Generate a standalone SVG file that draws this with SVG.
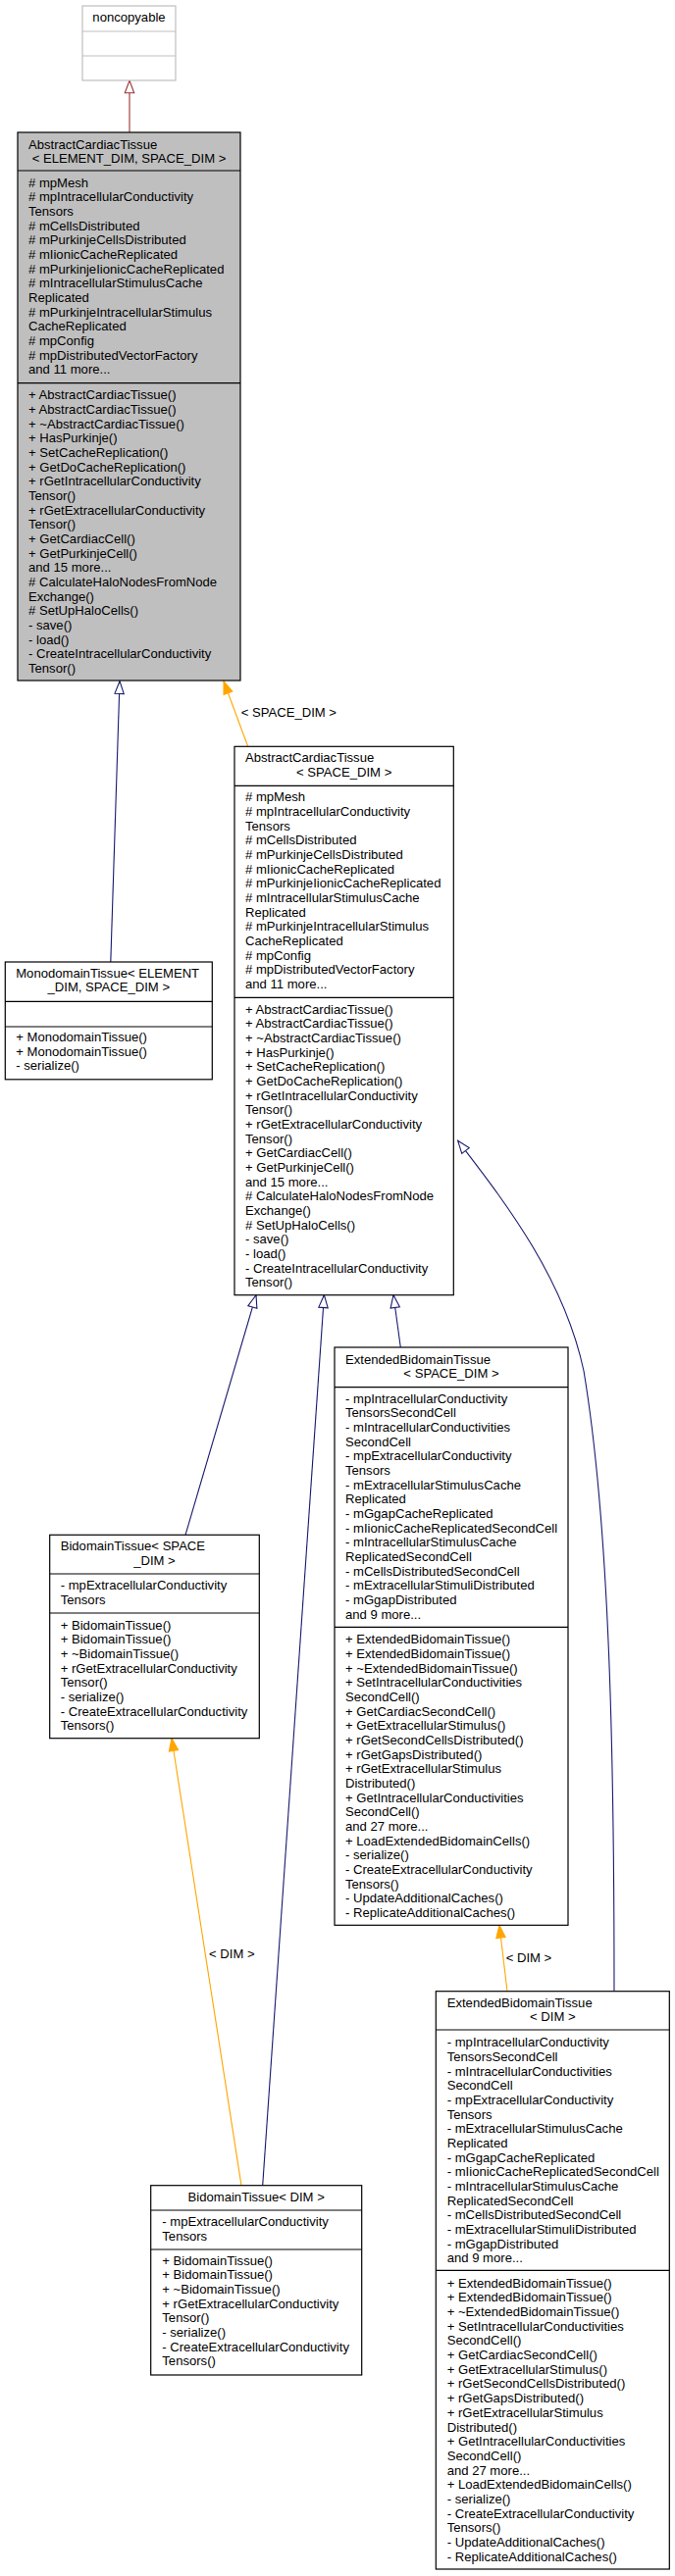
<svg xmlns="http://www.w3.org/2000/svg" width="688" height="2627" viewBox="0 0 688 2627">
<style>
.bx{fill:#fff;stroke:#000;stroke-width:1.2}
.bg{fill:#bfbfbf;stroke:#000;stroke-width:1.2}
.bn{fill:#fff;stroke:#bfbfbf;stroke-width:1.2}
.dv{stroke:#000;stroke-width:1.2}
.dn{stroke:#bfbfbf;stroke-width:1.2}
.t{font-family:"Liberation Sans",Arial,Helvetica,sans-serif;font-size:13.1px;fill:#000}
.m{text-anchor:middle}
.en{fill:none;stroke:#191970;stroke-width:1.1}
.eo{fill:none;stroke:#ffa500;stroke-width:1.1}
.er{fill:none;stroke:#9a3232;stroke-width:1.1}
</style>
<defs>
<marker id="hn" markerUnits="userSpaceOnUse" viewBox="0 0 14 10" markerWidth="14" markerHeight="10" refX="13.3" refY="5" orient="auto" overflow="visible"><path d="M0.5,0.3 L13.3,5 L0.5,9.7 Z" fill="#fff" stroke="#191970" stroke-width="1.1"/></marker>
<marker id="hr" markerUnits="userSpaceOnUse" viewBox="0 0 14 10" markerWidth="14" markerHeight="10" refX="13.3" refY="5" orient="auto" overflow="visible"><path d="M0.5,0.3 L13.3,5 L0.5,9.7 Z" fill="#fff" stroke="#9a3232" stroke-width="1.1"/></marker>
<marker id="fo" markerUnits="userSpaceOnUse" viewBox="0 0 14 10" markerWidth="14" markerHeight="10" refX="13.3" refY="5" orient="auto" overflow="visible"><path d="M0.5,0.3 L13.3,5 L0.5,9.7 Z" fill="#ffa500" stroke="#ffa500" stroke-width="1.1"/></marker>
</defs>

<g id="edges">
<path class="er" d="M132,135 L132,82" marker-end="url(#hr)"/>
<path class="en" d="M112.8,981 L122,694.7" marker-end="url(#hn)"/>
<path class="eo" d="M252.7,761.3 L228,694.7" marker-end="url(#fo)"/>
<text class="t" x="245.7" y="730.5">&lt; SPACE_DIM &gt;</text>
<path class="en" d="M189,1565.3 L261,1320.7" marker-end="url(#hn)"/>
<path class="en" d="M267.7,2228.7 L330.4,1320.7" marker-end="url(#hn)"/>
<path class="en" d="M408.3,1374 L401,1320.7" marker-end="url(#hn)"/>
<path class="en" d="M626,2030.7 C626,1800 622,1560 595,1398 C574,1300 510,1220 466.7,1163.3" marker-end="url(#hn)"/>
<path class="eo" d="M517,2030.7 L509,1963.3" marker-end="url(#fo)"/>
<text class="t" x="515.7" y="2001.2">&lt; DIM &gt;</text>
<path class="eo" d="M246,2228.7 L175,1772.7" marker-end="url(#fo)"/>
<text class="t" x="213" y="1997">&lt; DIM &gt;</text>
</g>

<g id="noncopyable">
<rect class="bn" x="84" y="6" width="95" height="76"/>
<line class="dn" x1="84" y1="32" x2="179" y2="32"/>
<line class="dn" x1="84" y1="57" x2="179" y2="57"/>
<text class="t m" x="131.5" y="21.8">noncopyable</text>
</g>

<g id="AbstractCardiacTissue_ED_SD">
<rect class="bg" x="18" y="135" width="227" height="559"/>
<line class="dv" x1="18" y1="174" x2="245" y2="174"/>
<line class="dv" x1="18" y1="390.7" x2="245" y2="390.7"/>
<text class="t" x="29" y="151.5">AbstractCardiacTissue</text>
<text class="t m" x="131.5" y="165.5">&lt; ELEMENT_DIM, SPACE_DIM &gt;</text>
<text class="t" x="29" y="190.5"><tspan x="29">#  mpMesh</tspan><tspan x="29" dy="14.67"># mpIntracellularConductivity</tspan><tspan x="29" dy="14.67">Tensors</tspan><tspan x="29" dy="14.67"># mCellsDistributed</tspan><tspan x="29" dy="14.67"># mPurkinjeCellsDistributed</tspan><tspan x="29" dy="14.67"># mIionicCacheReplicated</tspan><tspan x="29" dy="14.67"># mPurkinjeIionicCacheReplicated</tspan><tspan x="29" dy="14.67"># mIntracellularStimulusCache</tspan><tspan x="29" dy="14.67">Replicated</tspan><tspan x="29" dy="14.67"># mPurkinjeIntracellularStimulus</tspan><tspan x="29" dy="14.67">CacheReplicated</tspan><tspan x="29" dy="14.67"># mpConfig</tspan><tspan x="29" dy="14.67"># mpDistributedVectorFactory</tspan><tspan x="29" dy="14.67">and 11 more...</tspan></text>
<text class="t" x="29" y="407.2"><tspan x="29">+ AbstractCardiacTissue()</tspan><tspan x="29" dy="14.67">+ AbstractCardiacTissue()</tspan><tspan x="29" dy="14.67">+ ~AbstractCardiacTissue()</tspan><tspan x="29" dy="14.67">+ HasPurkinje()</tspan><tspan x="29" dy="14.67">+ SetCacheReplication()</tspan><tspan x="29" dy="14.67">+ GetDoCacheReplication()</tspan><tspan x="29" dy="14.67">+ rGetIntracellularConductivity</tspan><tspan x="29" dy="14.67">Tensor()</tspan><tspan x="29" dy="14.67">+ rGetExtracellularConductivity</tspan><tspan x="29" dy="14.67">Tensor()</tspan><tspan x="29" dy="14.67">+ GetCardiacCell()</tspan><tspan x="29" dy="14.67">+ GetPurkinjeCell()</tspan><tspan x="29" dy="14.67">and 15 more...</tspan><tspan x="29" dy="14.67"># CalculateHaloNodesFromNode</tspan><tspan x="29" dy="14.67">Exchange()</tspan><tspan x="29" dy="14.67"># SetUpHaloCells()</tspan><tspan x="29" dy="14.67">- save()</tspan><tspan x="29" dy="14.67">- load()</tspan><tspan x="29" dy="14.67">- CreateIntracellularConductivity</tspan><tspan x="29" dy="14.67">Tensor()</tspan></text>
</g>

<g id="AbstractCardiacTissue_SD">
<rect class="bx" x="239" y="761.3" width="223.3" height="559.4"/>
<line class="dv" x1="239" y1="801.3" x2="462.3" y2="801.3"/>
<line class="dv" x1="239" y1="1017.3" x2="462.3" y2="1017.3"/>
<text class="t" x="250" y="777.2">AbstractCardiacTissue</text>
<text class="t m" x="350.7" y="792.2">&lt; SPACE_DIM &gt;</text>
<text class="t" x="250" y="817.2"><tspan x="250"># mpMesh</tspan><tspan x="250" dy="14.67"># mpIntracellularConductivity</tspan><tspan x="250" dy="14.67">Tensors</tspan><tspan x="250" dy="14.67"># mCellsDistributed</tspan><tspan x="250" dy="14.67"># mPurkinjeCellsDistributed</tspan><tspan x="250" dy="14.67"># mIionicCacheReplicated</tspan><tspan x="250" dy="14.67"># mPurkinjeIionicCacheReplicated</tspan><tspan x="250" dy="14.67"># mIntracellularStimulusCache</tspan><tspan x="250" dy="14.67">Replicated</tspan><tspan x="250" dy="14.67"># mPurkinjeIntracellularStimulus</tspan><tspan x="250" dy="14.67">CacheReplicated</tspan><tspan x="250" dy="14.67"># mpConfig</tspan><tspan x="250" dy="14.67"># mpDistributedVectorFactory</tspan><tspan x="250" dy="14.67">and 11 more...</tspan></text>
<text class="t" x="250" y="1033.5"><tspan x="250">+ AbstractCardiacTissue()</tspan><tspan x="250" dy="14.67">+ AbstractCardiacTissue()</tspan><tspan x="250" dy="14.67">+ ~AbstractCardiacTissue()</tspan><tspan x="250" dy="14.67">+ HasPurkinje()</tspan><tspan x="250" dy="14.67">+ SetCacheReplication()</tspan><tspan x="250" dy="14.67">+ GetDoCacheReplication()</tspan><tspan x="250" dy="14.67">+ rGetIntracellularConductivity</tspan><tspan x="250" dy="14.67">Tensor()</tspan><tspan x="250" dy="14.67">+ rGetExtracellularConductivity</tspan><tspan x="250" dy="14.67">Tensor()</tspan><tspan x="250" dy="14.67">+ GetCardiacCell()</tspan><tspan x="250" dy="14.67">+ GetPurkinjeCell()</tspan><tspan x="250" dy="14.67">and 15 more...</tspan><tspan x="250" dy="14.67"># CalculateHaloNodesFromNode</tspan><tspan x="250" dy="14.67">Exchange()</tspan><tspan x="250" dy="14.67"># SetUpHaloCells()</tspan><tspan x="250" dy="14.67">- save()</tspan><tspan x="250" dy="14.67">- load()</tspan><tspan x="250" dy="14.67">- CreateIntracellularConductivity</tspan><tspan x="250" dy="14.67">Tensor()</tspan></text>
</g>

<g id="MonodomainTissue">
<rect class="bx" x="5.3" y="981" width="211" height="119.8"/>
<line class="dv" x1="5.3" y1="1021.3" x2="216.3" y2="1021.3"/>
<line class="dv" x1="5.3" y1="1047" x2="216.3" y2="1047"/>
<text class="t" x="16.2" y="996.7">MonodomainTissue&lt; ELEMENT</text>
<text class="t m" x="110.8" y="1011.3">_DIM, SPACE_DIM &gt;</text>
<text class="t" x="16.2" y="1062.1"><tspan x="16.2">+ MonodomainTissue()</tspan><tspan x="16.2" dy="14.67">+ MonodomainTissue()</tspan><tspan x="16.2" dy="14.67">- serialize()</tspan></text>
</g>

<g id="ExtendedBidomainTissue_SD">
<rect class="bx" x="341" y="1374" width="238" height="589.3"/>
<line class="dv" x1="341" y1="1414.7" x2="579" y2="1414.7"/>
<line class="dv" x1="341" y1="1659.3" x2="579" y2="1659.3"/>
<text class="t" x="352" y="1390.5">ExtendedBidomainTissue</text>
<text class="t m" x="460" y="1404.5">&lt; SPACE_DIM &gt;</text>
<text class="t" x="352" y="1430.5"><tspan x="352">- mpIntracellularConductivity</tspan><tspan x="352" dy="14.67">TensorsSecondCell</tspan><tspan x="352" dy="14.67">- mIntracellularConductivities</tspan><tspan x="352" dy="14.67">SecondCell</tspan><tspan x="352" dy="14.67">- mpExtracellularConductivity</tspan><tspan x="352" dy="14.67">Tensors</tspan><tspan x="352" dy="14.67">- mExtracellularStimulusCache</tspan><tspan x="352" dy="14.67">Replicated</tspan><tspan x="352" dy="14.67">- mGgapCacheReplicated</tspan><tspan x="352" dy="14.67">- mIionicCacheReplicatedSecondCell</tspan><tspan x="352" dy="14.67">- mIntracellularStimulusCache</tspan><tspan x="352" dy="14.67">ReplicatedSecondCell</tspan><tspan x="352" dy="14.67">- mCellsDistributedSecondCell</tspan><tspan x="352" dy="14.67">- mExtracellularStimuliDistributed</tspan><tspan x="352" dy="14.67">- mGgapDistributed</tspan><tspan x="352" dy="14.67">and 9 more...</tspan></text>
<text class="t" x="352" y="1676.2"><tspan x="352">+ ExtendedBidomainTissue()</tspan><tspan x="352" dy="14.67">+ ExtendedBidomainTissue()</tspan><tspan x="352" dy="14.67">+ ~ExtendedBidomainTissue()</tspan><tspan x="352" dy="14.67">+ SetIntracellularConductivities</tspan><tspan x="352" dy="14.67">SecondCell()</tspan><tspan x="352" dy="14.67">+ GetCardiacSecondCell()</tspan><tspan x="352" dy="14.67">+ GetExtracellularStimulus()</tspan><tspan x="352" dy="14.67">+ rGetSecondCellsDistributed()</tspan><tspan x="352" dy="14.67">+ rGetGapsDistributed()</tspan><tspan x="352" dy="14.67">+ rGetExtracellularStimulus</tspan><tspan x="352" dy="14.67">Distributed()</tspan><tspan x="352" dy="14.67">+ GetIntracellularConductivities</tspan><tspan x="352" dy="14.67">SecondCell()</tspan><tspan x="352" dy="14.67">and 27 more...</tspan><tspan x="352" dy="14.67">+ LoadExtendedBidomainCells()</tspan><tspan x="352" dy="14.67">- serialize()</tspan><tspan x="352" dy="14.67">- CreateExtracellularConductivity</tspan><tspan x="352" dy="14.67">Tensors()</tspan><tspan x="352" dy="14.67">- UpdateAdditionalCaches()</tspan><tspan x="352" dy="14.67">- ReplicateAdditionalCaches()</tspan></text>
</g>

<g id="ExtendedBidomainTissue_DIM">
<rect class="bx" x="444.3" y="2030.7" width="238" height="589.3"/>
<line class="dv" x1="444.3" y1="2070" x2="682.3" y2="2070"/>
<line class="dv" x1="444.3" y1="2315.3" x2="682.3" y2="2315.3"/>
<text class="t" x="455.7" y="2046.8">ExtendedBidomainTissue</text>
<text class="t m" x="563.3" y="2060.8">&lt; DIM &gt;</text>
<text class="t" x="455.7" y="2087.2"><tspan x="455.7">- mpIntracellularConductivity</tspan><tspan x="455.7" dy="14.67">TensorsSecondCell</tspan><tspan x="455.7" dy="14.67">- mIntracellularConductivities</tspan><tspan x="455.7" dy="14.67">SecondCell</tspan><tspan x="455.7" dy="14.67">- mpExtracellularConductivity</tspan><tspan x="455.7" dy="14.67">Tensors</tspan><tspan x="455.7" dy="14.67">- mExtracellularStimulusCache</tspan><tspan x="455.7" dy="14.67">Replicated</tspan><tspan x="455.7" dy="14.67">- mGgapCacheReplicated</tspan><tspan x="455.7" dy="14.67">- mIionicCacheReplicatedSecondCell</tspan><tspan x="455.7" dy="14.67">- mIntracellularStimulusCache</tspan><tspan x="455.7" dy="14.67">ReplicatedSecondCell</tspan><tspan x="455.7" dy="14.67">- mCellsDistributedSecondCell</tspan><tspan x="455.7" dy="14.67">- mExtracellularStimuliDistributed</tspan><tspan x="455.7" dy="14.67">- mGgapDistributed</tspan><tspan x="455.7" dy="14.67">and 9 more...</tspan></text>
<text class="t" x="455.7" y="2332.8"><tspan x="455.7">+ ExtendedBidomainTissue()</tspan><tspan x="455.7" dy="14.67">+ ExtendedBidomainTissue()</tspan><tspan x="455.7" dy="14.67">+ ~ExtendedBidomainTissue()</tspan><tspan x="455.7" dy="14.67">+ SetIntracellularConductivities</tspan><tspan x="455.7" dy="14.67">SecondCell()</tspan><tspan x="455.7" dy="14.67">+ GetCardiacSecondCell()</tspan><tspan x="455.7" dy="14.67">+ GetExtracellularStimulus()</tspan><tspan x="455.7" dy="14.67">+ rGetSecondCellsDistributed()</tspan><tspan x="455.7" dy="14.67">+ rGetGapsDistributed()</tspan><tspan x="455.7" dy="14.67">+ rGetExtracellularStimulus</tspan><tspan x="455.7" dy="14.67">Distributed()</tspan><tspan x="455.7" dy="14.67">+ GetIntracellularConductivities</tspan><tspan x="455.7" dy="14.67">SecondCell()</tspan><tspan x="455.7" dy="14.67">and 27 more...</tspan><tspan x="455.7" dy="14.67">+ LoadExtendedBidomainCells()</tspan><tspan x="455.7" dy="14.67">- serialize()</tspan><tspan x="455.7" dy="14.67">- CreateExtracellularConductivity</tspan><tspan x="455.7" dy="14.67">Tensors()</tspan><tspan x="455.7" dy="14.67">- UpdateAdditionalCaches()</tspan><tspan x="455.7" dy="14.67">- ReplicateAdditionalCaches()</tspan></text>
</g>

<g id="BidomainTissue_SD">
<rect class="bx" x="50.7" y="1565.3" width="213.6" height="207.4"/>
<line class="dv" x1="50.7" y1="1605" x2="264.3" y2="1605"/>
<line class="dv" x1="50.7" y1="1645" x2="264.3" y2="1645"/>
<text class="t" x="61.7" y="1580.5">BidomainTissue&lt; SPACE</text>
<text class="t m" x="157.5" y="1596.2">_DIM &gt;</text>
<text class="t" x="61.7" y="1621.2"><tspan x="61.7">- mpExtracellularConductivity</tspan><tspan x="61.7" dy="14.67">Tensors</tspan></text>
<text class="t" x="61.7" y="1661.8"><tspan x="61.7">+ BidomainTissue()</tspan><tspan x="61.7" dy="14.67">+ BidomainTissue()</tspan><tspan x="61.7" dy="14.67">+ ~BidomainTissue()</tspan><tspan x="61.7" dy="14.67">+ rGetExtracellularConductivity</tspan><tspan x="61.7" dy="14.67">Tensor()</tspan><tspan x="61.7" dy="14.67">- serialize()</tspan><tspan x="61.7" dy="14.67">- CreateExtracellularConductivity</tspan><tspan x="61.7" dy="14.67">Tensors()</tspan></text>
</g>

<g id="BidomainTissue_DIM">
<rect class="bx" x="153.7" y="2228.7" width="215" height="193.3"/>
<line class="dv" x1="153.7" y1="2254" x2="368.7" y2="2254"/>
<line class="dv" x1="153.7" y1="2294" x2="368.7" y2="2294"/>
<text class="t m" x="261.2" y="2245.2">BidomainTissue&lt; DIM &gt;</text>
<text class="t" x="165.3" y="2270.2"><tspan x="165.3">- mpExtracellularConductivity</tspan><tspan x="165.3" dy="14.67">Tensors</tspan></text>
<text class="t" x="165.3" y="2309.5"><tspan x="165.3">+ BidomainTissue()</tspan><tspan x="165.3" dy="14.67">+ BidomainTissue()</tspan><tspan x="165.3" dy="14.67">+ ~BidomainTissue()</tspan><tspan x="165.3" dy="14.67">+ rGetExtracellularConductivity</tspan><tspan x="165.3" dy="14.67">Tensor()</tspan><tspan x="165.3" dy="14.67">- serialize()</tspan><tspan x="165.3" dy="14.67">- CreateExtracellularConductivity</tspan><tspan x="165.3" dy="14.67">Tensors()</tspan></text>
</g>
</svg>
